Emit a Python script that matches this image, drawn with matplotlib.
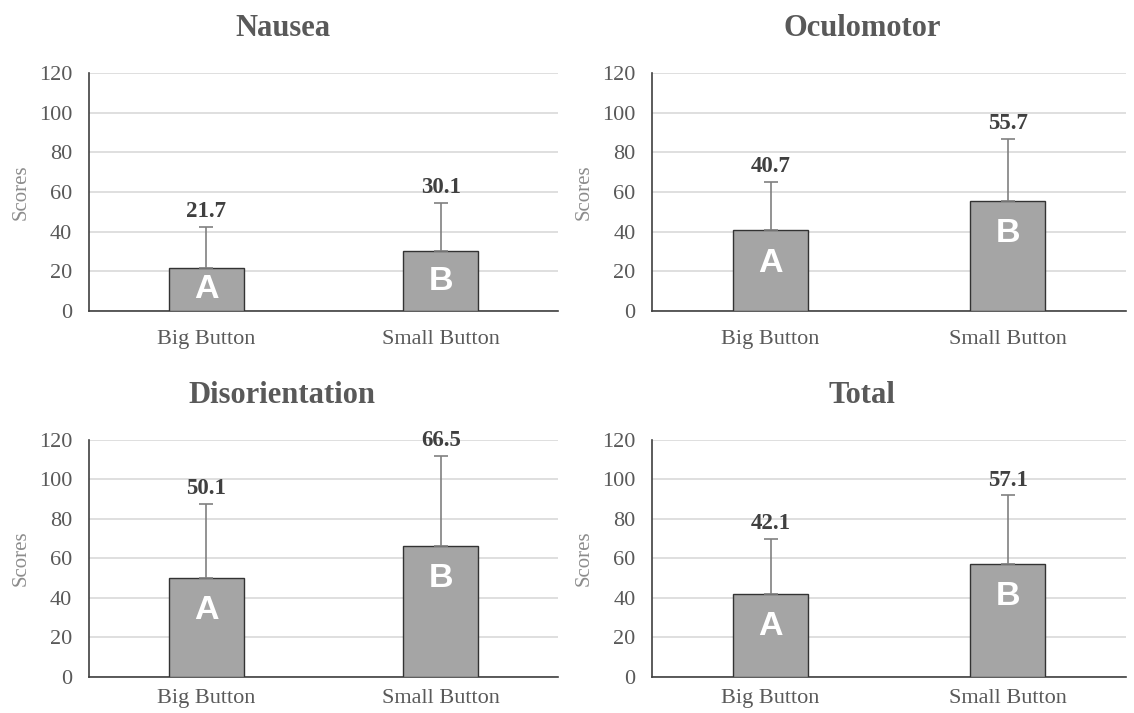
import numpy as np
import matplotlib
matplotlib.use('Agg')
from matplotlib import pyplot as plt

# SSQ scores by button size
titles = ['Nausea', 'Oculomotor', 'Disorientation', 'Total']
groups = ['Big Button', 'Small Button']
letters = ['A', 'B']
means = [[21.7, 30.1], [40.7, 55.7], [50.1, 66.5], [42.1, 57.1]]
sds = [[20.6, 24.4], [24.3, 30.9], [37.5, 45.3], [27.8, 34.8]]
yticks = [0, 20, 40, 60, 80, 100, 120]

serif = 'Liberation Serif'
tick_col = '#595959'

fig = plt.figure(figsize=(11.34, 7.13), dpi=100)
boxes = [[0.0785, 0.5638, 0.4136, 0.3338],
         [0.575, 0.5638, 0.418, 0.3338],
         [0.0785, 0.0505, 0.4136, 0.3324],
         [0.575, 0.0505, 0.418, 0.3324]]
title_xy = [(0.2496, 0.9607), (0.760, 0.9607), (0.2487, 0.446), (0.760, 0.446)]

for i in range(4):
    ax = fig.add_axes(boxes[i])
    x = np.arange(len(groups))
    ax.bar(x, means[i], width=0.32, color='#a5a5a5', edgecolor='#333333',
           linewidth=1.0, zorder=3)
    ax.errorbar(x, means[i], yerr=[[0, 0], sds[i]], fmt='none',
                ecolor='#808080', elinewidth=1.2, capsize=5, capthick=1.2, zorder=4)
    for j in range(len(groups)):
        top = means[i][j] + sds[i][j]
        ax.text(x[j], top + 2.5, '%.1f' % means[i][j], ha='center', va='bottom',
                fontsize=16.5, fontweight='bold', family=serif, color='#404040', zorder=5)
        ly = max(means[i][j] - 16.5, means[i][j] / 2)
        ax.text(x[j], ly, letters[j], ha='center', va='center', fontsize=24.5,
                fontweight='bold', family='Liberation Sans', color='white', zorder=5)
    ax.set_xlim(-0.5, 1.5)
    ax.set_ylim(0, 120)
    ax.set_yticks(yticks)
    ax.set_xticks(x)
    ax.set_xticklabels(groups)
    for lab in ax.get_xticklabels() + ax.get_yticklabels():
        lab.set_family(serif)
        lab.set_fontsize(16)
        lab.set_color(tick_col)
    ax.tick_params(length=0, pad=12)
    # bottom row labels sit close to the figure edge
    ax.tick_params(axis='x', pad=14 if i < 2 else 9)
    ax.yaxis.grid(True, color='#d9d9d9', linewidth=1.2, zorder=0)
    ax.set_axisbelow(True)
    for s in ['top', 'right']:
        ax.spines[s].set_visible(False)
    for s in ['left', 'bottom']:
        ax.spines[s].set_color('#404040')
        ax.spines[s].set_linewidth(1.2)
    ax.set_ylabel('Scores', family=serif, fontsize=15, color='#8c8c8c', labelpad=6)
    fig.text(title_xy[i][0], title_xy[i][1], titles[i], ha='center', va='center',
             family=serif, fontsize=22, fontweight='bold', color=tick_col)

plt.savefig('out.png', dpi=100)
